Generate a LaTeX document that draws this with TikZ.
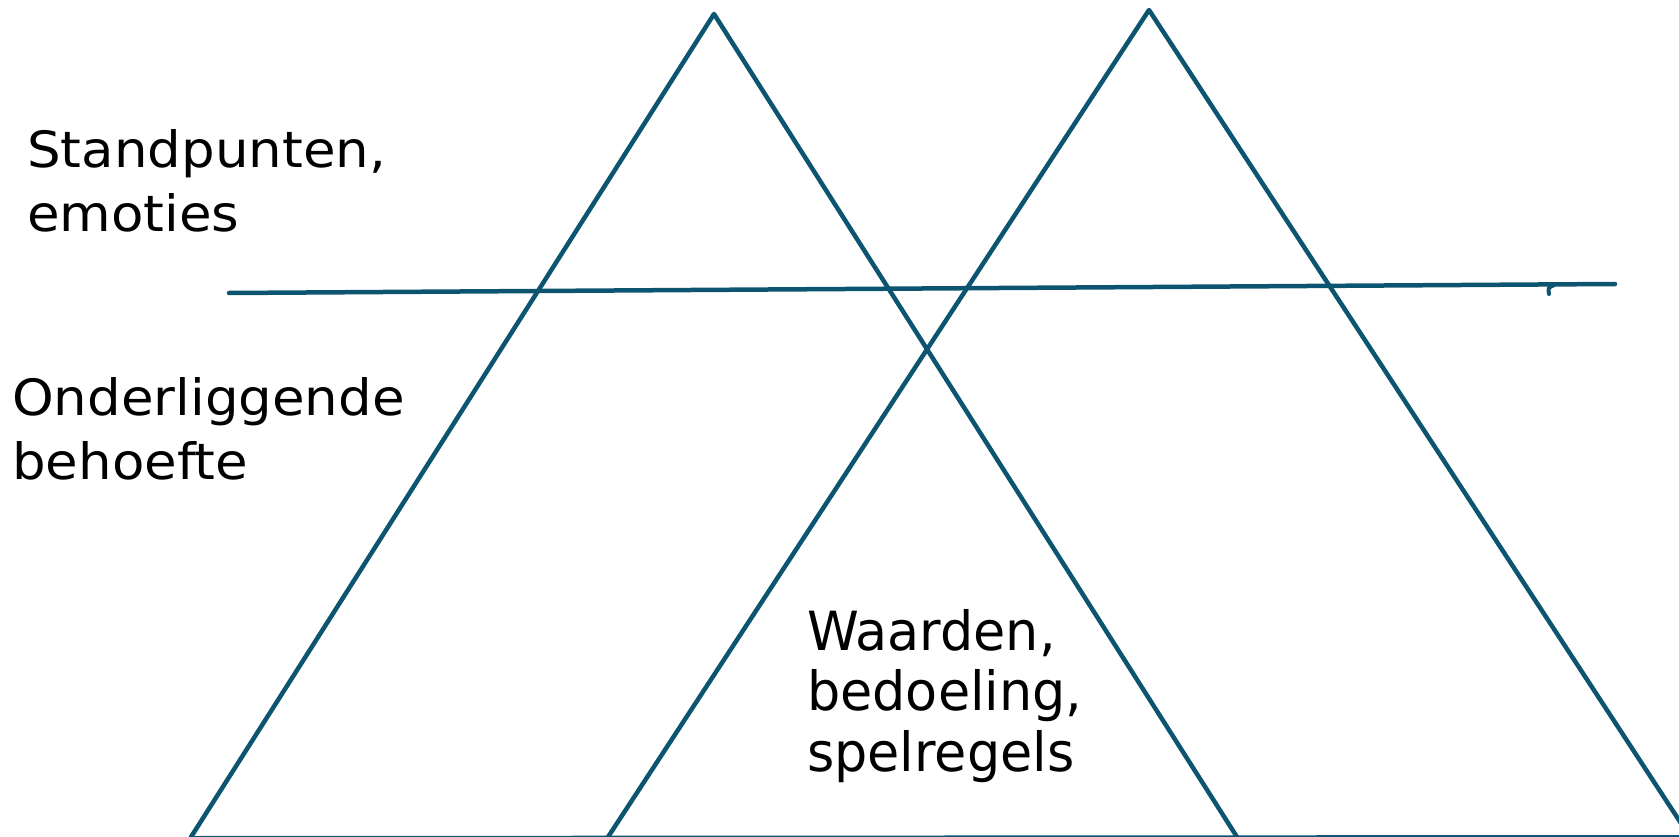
\documentclass[tikz,border=0pt]{standalone}
\usepackage{fontspec}
\newfontfamily\labfont[FakeStretch=1.06]{DejaVu Sans}
\newfontfamily\labfontb[FakeStretch=0.97]{DejaVu Sans}
\definecolor{tri}{RGB}{12,84,112}
\begin{document}
\begin{tikzpicture}[x=1pt,y=-1pt,
  edge/.style={draw=tri,line width=4.5pt,line join=round,line cap=round},
  lab/.style={inner sep=0pt,anchor=base west,align=left,text=black}]
\useasboundingbox (0,0) rectangle (1679,837);
\begin{scope}
\clip (0,0) rectangle (1679,837);
\coordinate (A1) at (714,14);
\coordinate (L1) at (191,837);
\coordinate (R1) at (1237,837);
\coordinate (A2) at (1149,10);
\coordinate (L2) at (608,837);
\coordinate (R2) at (1690,837);
\coordinate (H1) at (229,293);
\coordinate (H2) at (1615,284);
\draw[edge] (L1) -- (A1) -- (R1);
\draw[edge] (L2) -- (A2) -- (R2);
\draw[edge] (H1) -- (H2);
\draw[draw=tri,line width=4pt,line cap=round] (1554,285) .. controls (1548,288) .. (1549,294);
\draw[draw=tri,line width=2pt] (L1) -- (1679,836);
\end{scope}
\node[lab,font=\labfont\fontsize{50}{64}\selectfont] (sp) at (27,232) {Standpunten,\\emoties};
\node[lab,font=\labfont\fontsize{50}{64}\selectfont] (ob) at (12,479) {Onderliggende\\behoefte};
\node[lab,font=\labfontb\fontsize{54}{60.5}\selectfont] (wb) at (807,771) {Waarden,\\bedoeling,\\spelregels};
\end{tikzpicture}
\end{document}
